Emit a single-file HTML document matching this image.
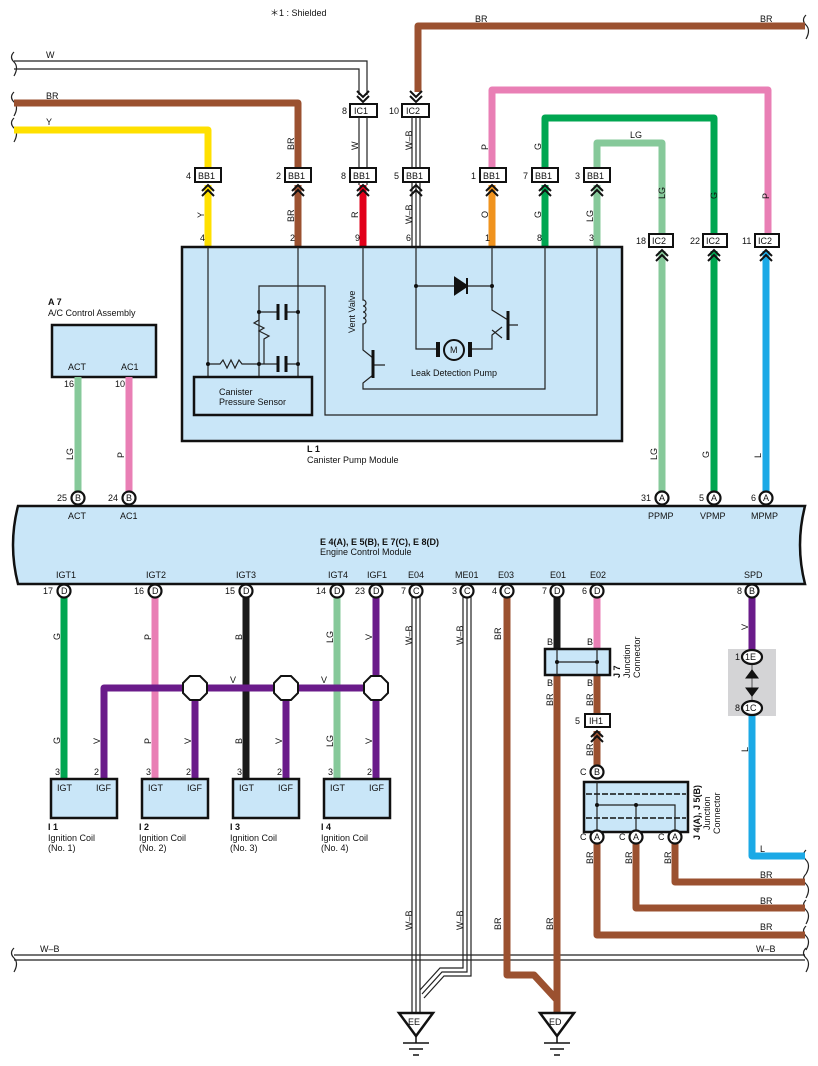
<!DOCTYPE html>
<html><head><meta charset="utf-8"><style>
html,body{margin:0;padding:0;background:#fff}
svg{display:block}
text{font-family:"Liberation Sans",sans-serif;font-size:9px;fill:#111}
.b{font-weight:bold}
.w{fill:none;stroke-width:7;stroke-linejoin:round}
.t{fill:none;stroke:#222;stroke-width:1.2}
.box{fill:#c9e6f8;stroke:#111;stroke-width:2.5}
.cn{fill:#fff;stroke:#111;stroke-width:2.2}
.ch{fill:none;stroke:#111;stroke-width:2}
</style></head><body>
<svg width="818" height="1066" viewBox="0 0 818 1066" xmlns="http://www.w3.org/2000/svg">
<defs>
<g id="chu"><path class="ch" d="M-6,6 L0,0 L6,6 M-6,11 L0,5 L6,11"/></g>
<g id="chd"><path class="ch" d="M-6,-6 L0,0 L6,-6 M-6,-11 L0,-5 L6,-11"/></g>
</defs>
<text x="270" y="16">＊1 : Shielded</text>

<g class="t" stroke-width="1.5">
<path d="M14,52 q-5,5 0,10 q5,5 0,14"/>
<path d="M14,92 q-5,5 0,10 q5,5 0,14"/>
<path d="M14,118 q-5,5 0,10 q5,5 0,14"/>
<path d="M806,15 q-5,5 0,10 q5,5 0,14"/>
<path d="M806,850 q-5,5 0,10 q5,5 0,14"/>
<path d="M806,874 q-5,5 0,10 q5,5 0,14"/>
<path d="M806,900 q-5,5 0,10 q5,5 0,14"/>
<path d="M806,926 q-5,5 0,10 q5,5 0,14"/>
<path d="M14,948 q-5,5 0,10 q5,5 0,14"/>
<path d="M806,948 q-5,5 0,10 q5,5 0,14"/>
</g>

<path d="M14,61 H367 V95 M14,69 H359 V95" class="t"/>
<text x="46" y="58">W</text>
<path d="M805,26 H418 V92" class="w" stroke="#9b5130"/>
<text x="475" y="22">BR</text><text x="760" y="22">BR</text>
<path d="M14,103 H298 V168" class="w" stroke="#9b5130"/>
<text x="46" y="99">BR</text>
<path d="M14,130 H208 V168" class="w" stroke="#ffe000"/>
<text x="46" y="125">Y</text>
<use href="#chd" x="363" y="102"/><use href="#chd" x="416" y="102"/>
<rect x="350" y="104" width="27" height="13" fill="#fff" stroke="#111" stroke-width="2"/><text x="354" y="114">IC1</text><text x="342" y="114">8</text>
<rect x="402" y="104" width="27" height="13" fill="#fff" stroke="#111" stroke-width="2"/><text x="406" y="114">IC2</text><text x="389" y="114">10</text>
<path d="M359,117 V168 M367,117 V168" class="t"/>
<path d="M412,117 V247 M416,117 V247 M420,117 V247" class="t"/>
<path d="M492,168 V90 H768 V234" class="w" stroke="#e97fb5"/>
<path d="M545,168 V118 H714 V234" class="w" stroke="#00a651"/>
<path d="M597,168 V143 H662 V234" class="w" stroke="#86c99a"/>
<text x="630" y="138">LG</text>
<g transform="rotate(-90)">
<text x="-150" y="294">BR</text><text x="-150" y="358">W</text><text x="-150" y="412">W–B</text>
<text x="-150" y="488">P</text><text x="-150" y="541">G</text>
<text x="-199" y="665">LG</text><text x="-199" y="717">G</text><text x="-199" y="769">P</text>
<text x="-218" y="204">Y</text><text x="-222" y="294">BR</text><text x="-218" y="358">R</text><text x="-224" y="412">W–B</text>
<text x="-218" y="488">O</text><text x="-218" y="541">G</text><text x="-222" y="593">LG</text>
</g>
<g>
<path d="M208,185 V247" class="w" stroke="#ffe000"/>
<path d="M298,185 V247" class="w" stroke="#9b5130"/>
<path d="M363,185 V247" class="w" stroke="#e2001a"/>
<path d="M492,185 V247" class="w" stroke="#f0931e"/>
<path d="M545,185 V247" class="w" stroke="#00a651"/>
<path d="M597,185 V247" class="w" stroke="#86c99a"/>
<path d="M359,182 V185 M367,182 V185" class="t"/>
</g>
<g>
<rect x="195" y="168" width="26" height="14" fill="#fff" stroke="#111" stroke-width="2"/><text x="198" y="179">BB1</text><text x="186" y="179">4</text>
<rect x="285" y="168" width="26" height="14" fill="#fff" stroke="#111" stroke-width="2"/><text x="288" y="179">BB1</text><text x="276" y="179">2</text>
<rect x="350" y="168" width="26" height="14" fill="#fff" stroke="#111" stroke-width="2"/><text x="353" y="179">BB1</text><text x="341" y="179">8</text>
<rect x="403" y="168" width="26" height="14" fill="#fff" stroke="#111" stroke-width="2"/><text x="406" y="179">BB1</text><text x="394" y="179">5</text>
<rect x="480" y="168" width="26" height="14" fill="#fff" stroke="#111" stroke-width="2"/><text x="483" y="179">BB1</text><text x="471" y="179">1</text>
<rect x="532" y="168" width="26" height="14" fill="#fff" stroke="#111" stroke-width="2"/><text x="535" y="179">BB1</text><text x="523" y="179">7</text>
<rect x="584" y="168" width="26" height="14" fill="#fff" stroke="#111" stroke-width="2"/><text x="587" y="179">BB1</text><text x="575" y="179">3</text>
</g>
<use href="#chu" x="208" y="185"/><use href="#chu" x="298" y="185"/><use href="#chu" x="363" y="185"/><use href="#chu" x="416" y="185"/><use href="#chu" x="492" y="185"/><use href="#chu" x="545" y="185"/><use href="#chu" x="597" y="185"/>
<text x="200" y="241">4</text><text x="290" y="241">2</text><text x="355" y="241">9</text><text x="406" y="241">6</text><text x="485" y="241">1</text><text x="537" y="241">8</text><text x="589" y="241">3</text>

<rect x="182" y="247" width="440" height="194" class="box"/>
<g class="t">
<path d="M208,247 V376 M298,247 V376 M259,376 V286 H325 V415 H597 V247"/>
<path d="M259,312 H278 M286,312 H298 M259,312 v8 l-5,3 l10,5 l-5,3 l10,5 l-5,3 V364"/>
<path d="M208,364 H220 l3,-4 l4,8 l4,-8 l4,8 l4,-8 l3,4 H278 M286,364 H298"/>
<path d="M363,247 V300 a3,3 0 0 1 0,6 a3,3 0 0 1 0,6 a3,3 0 0 1 0,6 a3,3 0 0 1 0,6 V350 l10,8 M373,375 l-10,8 V389 H545 V247 M373,365 H385"/>
<path d="M416,247 V349 H437 M469,349 H492 V335 l10,-8 M502,338 l-10,-8 M416,286 H492 V247 M492,286 V310 l16,10 M508,325 H518"/>
</g>
<path d="M278,304 V320 M286,304 V320 M278,356 V372 M286,356 V372" stroke="#111" stroke-width="3"/>
<path d="M373,350 V378 M508,311 V340" stroke="#111" stroke-width="3"/>
<path d="M455,278 L467,286 L455,294 Z M467,278 V294" fill="#111" stroke="#111" stroke-width="2"/>
<circle cx="208" cy="364" r="2" fill="#111"/><circle cx="259" cy="364" r="2" fill="#111"/><circle cx="298" cy="364" r="2" fill="#111"/><circle cx="259" cy="312" r="2" fill="#111"/><circle cx="298" cy="312" r="2" fill="#111"/><circle cx="416" cy="286" r="2" fill="#111"/><circle cx="492" cy="286" r="2" fill="#111"/>
<circle cx="454" cy="350" r="10" fill="#c9e6f8" stroke="#111" stroke-width="2"/><text x="450" y="353">M</text>
<rect x="436" y="342" width="4" height="15" fill="#111"/><rect x="468" y="342" width="4" height="15" fill="#111"/>
<text x="411" y="376">Leak Detection Pump</text>
<text transform="translate(355,333) rotate(-90)">Vent Valve</text>
<rect x="194" y="377" width="118" height="38" class="box" stroke-width="3"/>
<text x="219" y="395">Canister</text><text x="219" y="405">Pressure Sensor</text>
<text x="307" y="452" class="b">L 1</text><text x="307" y="463">Canister Pump Module</text>

<rect x="649" y="234" width="24" height="13" fill="#fff" stroke="#111" stroke-width="2"/><text x="652" y="244">IC2</text><text x="636" y="244">18</text>
<rect x="703" y="234" width="24" height="13" fill="#fff" stroke="#111" stroke-width="2"/><text x="706" y="244">IC2</text><text x="690" y="244">22</text>
<rect x="755" y="234" width="24" height="13" fill="#fff" stroke="#111" stroke-width="2"/><text x="758" y="244">IC2</text><text x="742" y="244">11</text>
<path d="M662,251 V493" class="w" stroke="#86c99a"/>
<path d="M714,251 V493" class="w" stroke="#00a651"/>
<path d="M766,251 V493" class="w" stroke="#1ba9e6"/>
<use href="#chu" x="662" y="250"/><use href="#chu" x="714" y="250"/><use href="#chu" x="766" y="250"/>
<g transform="rotate(-90)"><text x="-460" y="657">LG</text><text x="-458" y="709">G</text><text x="-458" y="761">L</text>
<text x="-460" y="73">LG</text><text x="-458" y="124">P</text></g>

<text x="48" y="305" class="b">A 7</text><text x="48" y="316">A/C Control Assembly</text>
<rect x="52" y="325" width="104" height="52" class="box" stroke-width="2"/>
<text x="68" y="370">ACT</text><text x="121" y="370">AC1</text>
<path d="M78,377 V493" class="w" stroke="#86c99a"/><path d="M129,377 V493" class="w" stroke="#e97fb5"/>
<text x="64" y="387">16</text><text x="115" y="387">10</text>

<path d="M18,506 H805 Q795,545 805,584 H18 Q8,545 18,506 Z" fill="#c9e6f8" stroke="#111" stroke-width="2.5"/>
<text x="320" y="545" class="b">E 4(A), E 5(B), E 7(C), E 8(D)</text>
<text x="320" y="555">Engine Control Module</text>
<text x="68" y="519">ACT</text><text x="120" y="519">AC1</text><text x="648" y="519">PPMP</text><text x="700" y="519">VPMP</text><text x="751" y="519">MPMP</text>
<text x="56" y="578">IGT1</text><text x="146" y="578">IGT2</text><text x="236" y="578">IGT3</text><text x="328" y="578">IGT4</text><text x="367" y="578">IGF1</text><text x="408" y="578">E04</text><text x="455" y="578">ME01</text><text x="498" y="578">E03</text><text x="550" y="578">E01</text><text x="590" y="578">E02</text><text x="744" y="578">SPD</text>

<path d="M64,597 V779" class="w" stroke="#00a651"/>
<path d="M155,597 V779" class="w" stroke="#e97fb5"/>
<path d="M246,597 V779" class="w" stroke="#1a1a1a"/>
<path d="M337,597 V779" class="w" stroke="#86c99a"/>
<path d="M104,779 V688 H376 M376,597 V779 M195,688 V779 M286,688 V779" class="w" stroke="#6a1b8a"/>
<g fill="#fff" stroke="#111" stroke-width="2">
<polygon points="190,676 200,676 207,683 207,693 200,700 190,700 183,693 183,683"/>
<polygon points="281,676 291,676 298,683 298,693 291,700 281,700 274,693 274,683"/>
<polygon points="371,676 381,676 388,683 388,693 381,700 371,700 364,693 364,683"/>
</g>
<text x="230" y="683">V</text><text x="321" y="683">V</text>
<g transform="rotate(-90)">
<text x="-640" y="60">G</text><text x="-640" y="151">P</text><text x="-640" y="242">B</text><text x="-643" y="333">LG</text><text x="-640" y="372">V</text>
<text x="-744" y="60">G</text><text x="-744" y="100">V</text><text x="-744" y="151">P</text><text x="-744" y="191">V</text><text x="-744" y="242">B</text><text x="-744" y="282">V</text><text x="-747" y="333">LG</text><text x="-744" y="372">V</text>
<text x="-645" y="412">W–B</text><text x="-645" y="463">W–B</text><text x="-640" y="501">BR</text>
<text x="-930" y="412">W–B</text><text x="-930" y="463">W–B</text><text x="-930" y="501">BR</text><text x="-930" y="553">BR</text>
<text x="-706" y="553">BR</text><text x="-706" y="593">BR</text><text x="-756" y="593">BR</text>
<text x="-864" y="593">BR</text><text x="-864" y="632">BR</text><text x="-864" y="671">BR</text>
<text x="-630" y="748">V</text><text x="-752" y="748">L</text>
</g>
<g>
<rect x="51" y="779" width="66" height="39" class="box" stroke-width="2"/>
<rect x="142" y="779" width="66" height="39" class="box" stroke-width="2"/>
<rect x="233" y="779" width="66" height="39" class="box" stroke-width="2"/>
<rect x="324" y="779" width="66" height="39" class="box" stroke-width="2"/>
<text x="57" y="791">IGT</text><text x="96" y="791">IGF</text>
<text x="148" y="791">IGT</text><text x="187" y="791">IGF</text>
<text x="239" y="791">IGT</text><text x="278" y="791">IGF</text>
<text x="330" y="791">IGT</text><text x="369" y="791">IGF</text>
<text x="55" y="775">3</text><text x="94" y="775">2</text><text x="146" y="775">3</text><text x="186" y="775">2</text><text x="237" y="775">3</text><text x="277" y="775">2</text><text x="328" y="775">3</text><text x="367" y="775">2</text>
<text x="48" y="830" class="b">I 1</text><text x="48" y="841">Ignition Coil</text><text x="48" y="851">(No. 1)</text>
<text x="139" y="830" class="b">I 2</text><text x="139" y="841">Ignition Coil</text><text x="139" y="851">(No. 2)</text>
<text x="230" y="830" class="b">I 3</text><text x="230" y="841">Ignition Coil</text><text x="230" y="851">(No. 3)</text>
<text x="321" y="830" class="b">I 4</text><text x="321" y="841">Ignition Coil</text><text x="321" y="851">(No. 4)</text>
</g>

<path d="M14,955 H805 M14,960 H805" class="t"/>
<text x="40" y="952">W–B</text><text x="756" y="952">W–B</text>
<path d="M412,597 V1013 M416,597 V1013 M420,597 V1013" class="t"/>
<path d="M463,597 V968 H440 L420,990 M467,597 V972 H442 L422,994 M471,597 V976 H444 L424,998" class="t"/>
<path d="M507,597 V975 H534 L557,1000" class="w" stroke="#9b5130"/>
<path d="M557,597 V648" class="w" stroke="#1a1a1a"/>
<path d="M557,676 V1013" class="w" stroke="#9b5130"/>
<path d="M597,597 V648" class="w" stroke="#e97fb5"/>
<path d="M597,676 V714 M597,731 V772" class="w" stroke="#9b5130"/>
<path d="M597,843 V935 H805 M636,843 V908 H805 M675,843 V882 H805" class="w" stroke="#9b5130"/>
<text x="760" y="904">BR</text><text x="760" y="930">BR</text><text x="760" y="878">BR</text>
<rect x="545" y="649" width="65" height="26" class="box" stroke-width="3"/>
<path d="M557,649 V675 M597,649 V675 M557,662 H597" class="t"/>
<circle cx="557" cy="662" r="2" fill="#111"/><circle cx="597" cy="662" r="2" fill="#111"/>
<text x="547" y="645">B</text><text x="587" y="645">B</text><text x="547" y="686">B</text><text x="587" y="686">B</text>
<text transform="translate(620,678) rotate(-90)" class="b">J 7</text>
<text transform="translate(630,678) rotate(-90)">Junction</text><text transform="translate(640,678) rotate(-90)">Connector</text>
<rect x="585" y="714" width="25" height="13" fill="#fff" stroke="#111" stroke-width="2"/><text x="589" y="724">IH1</text><text x="575" y="724">5</text>
<use href="#chu" x="597" y="731"/>
<rect x="584" y="782" width="104" height="50" class="box" stroke-width="2"/>
<path d="M586,794 H686 M586,818 H686" stroke="#111" stroke-width="1.5" stroke-dasharray="6,2" fill="none"/>
<path d="M597,782 V832 M597,805 H675 V832 M636,805 V832" class="t"/>
<circle cx="597" cy="805" r="2" fill="#111"/><circle cx="636" cy="805" r="2" fill="#111"/>
<text transform="translate(700,840) rotate(-90)" class="b">J 4(A), J 5(B)</text>
<text transform="translate(710,830) rotate(-90)">Junction</text><text transform="translate(720,834) rotate(-90)">Connector</text>
<rect x="728" y="649" width="48" height="67" fill="#d4d4d6"/>
<path d="M752,597 V650" class="w" stroke="#6a1b8a"/>
<path d="M752,714 V856 H805" class="w" stroke="#1ba9e6"/>
<text x="760" y="852">L</text>
<path d="M752,665 V700" stroke="#555" stroke-width="1"/>
<path d="M746,678 L752,670 L758,678 Z M746,688 L752,696 L758,688 Z" fill="#111" stroke="#111" stroke-width="1"/>
<ellipse cx="752" cy="657" rx="10" ry="7" class="cn"/><text x="745" y="660">1E</text><text x="735" y="660">1</text>
<ellipse cx="752" cy="708" rx="10" ry="7" class="cn"/><text x="745" y="711">1C</text><text x="735" y="711">8</text>

<g>
<circle cx="78" cy="498" r="6.5" class="cn"/><text x="75" y="501">B</text><text x="57" y="501">25</text>
<circle cx="129" cy="498" r="6.5" class="cn"/><text x="126" y="501">B</text><text x="108" y="501">24</text>
<circle cx="662" cy="498" r="6.5" class="cn"/><text x="659" y="501">A</text><text x="641" y="501">31</text>
<circle cx="714" cy="498" r="6.5" class="cn"/><text x="711" y="501">A</text><text x="699" y="501">5</text>
<circle cx="766" cy="498" r="6.5" class="cn"/><text x="763" y="501">A</text><text x="751" y="501">6</text>
<circle cx="64" cy="591" r="6.5" class="cn"/><text x="61" y="594">D</text><text x="43" y="594">17</text>
<circle cx="155" cy="591" r="6.5" class="cn"/><text x="152" y="594">D</text><text x="134" y="594">16</text>
<circle cx="246" cy="591" r="6.5" class="cn"/><text x="243" y="594">D</text><text x="225" y="594">15</text>
<circle cx="337" cy="591" r="6.5" class="cn"/><text x="334" y="594">D</text><text x="316" y="594">14</text>
<circle cx="376" cy="591" r="6.5" class="cn"/><text x="373" y="594">D</text><text x="355" y="594">23</text>
<circle cx="416" cy="591" r="6.5" class="cn"/><text x="413" y="594">C</text><text x="401" y="594">7</text>
<circle cx="467" cy="591" r="6.5" class="cn"/><text x="464" y="594">C</text><text x="452" y="594">3</text>
<circle cx="507" cy="591" r="6.5" class="cn"/><text x="504" y="594">C</text><text x="492" y="594">4</text>
<circle cx="557" cy="591" r="6.5" class="cn"/><text x="554" y="594">D</text><text x="542" y="594">7</text>
<circle cx="597" cy="591" r="6.5" class="cn"/><text x="594" y="594">D</text><text x="582" y="594">6</text>
<circle cx="752" cy="591" r="6.5" class="cn"/><text x="749" y="594">B</text><text x="737" y="594">8</text>
<circle cx="597" cy="772" r="6.5" class="cn"/><text x="594" y="775">B</text><text x="580" y="775">C</text>
<circle cx="597" cy="837" r="6.5" class="cn"/><text x="594" y="840">A</text><text x="580" y="840">C</text>
<circle cx="636" cy="837" r="6.5" class="cn"/><text x="633" y="840">A</text><text x="619" y="840">C</text>
<circle cx="675" cy="837" r="6.5" class="cn"/><text x="672" y="840">A</text><text x="658" y="840">C</text>
</g>

<g stroke="#111" stroke-width="2.5" fill="#fff">
<polygon points="399,1013 433,1013 416,1036"/>
<polygon points="540,1013 574,1013 557,1036"/>
</g>
<g stroke="#111" stroke-width="1.5">
<path d="M416,1036 V1043 M403,1043 H429 M409,1049 H423 M413,1055 H419"/>
<path d="M557,1036 V1043 M544,1043 H570 M550,1049 H564 M554,1055 H560"/>
</g>
<text x="408" y="1025">EE</text><text x="549" y="1025">ED</text>
</svg>
</body></html>
